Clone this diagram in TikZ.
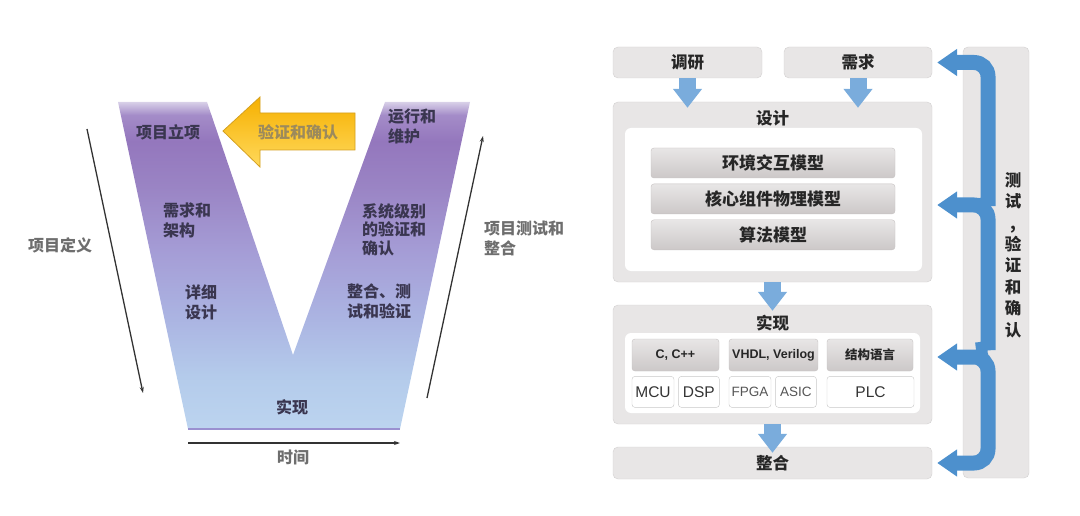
\documentclass[tikz,border=0pt]{standalone}
\usepackage{fontspec}
\setmainfont{Liberation Sans}
\newfontfamily\cjk{Noto Sans CJK SC}
\usetikzlibrary{arrows.meta,positioning,calc}

\definecolor{boxfill}{HTML}{E8E6E6}
\definecolor{boxline}{HTML}{D2D0D0}
\definecolor{barTop}{HTML}{E8E6E6}
\definecolor{barBot}{HTML}{CCC8C8}
\definecolor{barLine}{HTML}{C6C2C2}
\definecolor{cellLine}{HTML}{C8C8C8}
\definecolor{txtdark}{HTML}{262626}
\definecolor{txtcell}{HTML}{333333}
\definecolor{txtlight}{HTML}{555555}
\definecolor{vtext}{HTML}{3A3650}
\definecolor{sidegray}{HTML}{6E6E6E}
\definecolor{linegray}{HTML}{333333}
\definecolor{yTop}{HTML}{F6B000}
\definecolor{yBot}{HTML}{FFD95C}
\definecolor{yLine}{HTML}{D4A020}
\definecolor{yText}{HTML}{9C8A5C}
\definecolor{vedge}{HTML}{9A90D0}
\definecolor{tblue}{HTML}{4D90CD}
\definecolor{dnblue}{HTML}{7AACDC}
% V band colours
\definecolor{vc1}{HTML}{BCD4EF}
\definecolor{vc2}{HTML}{B4CBEB}
\definecolor{vc3}{HTML}{ABB4E2}
\definecolor{vc4}{HTML}{A59DD6}
\definecolor{vc5}{HTML}{9A84C4}
\definecolor{vc6}{HTML}{9477BD}
\definecolor{vc7}{HTML}{A48CC8}
\definecolor{vc8}{HTML}{D8D0E8}
\pgfdeclareverticalshading{vband}{100bp}{color(0bp)=(vc1); color(25bp)=(vc1); color(33bp)=(vc2); color(42bp)=(vc3); color(52bp)=(vc4); color(62bp)=(vc5); color(69bp)=(vc6); color(73bp)=(vc7); color(75bp)=(vc8); color(100bp)=(vc8)}

\begin{document}
\begin{tikzpicture}[x=1pt, y=-1pt,
    gbox/.style={draw=boxline, fill=boxfill, rounded corners=5pt, inner sep=0pt, font=\cjk\bfseries\fontsize{16.5}{16.5}\selectfont, text=txtdark},
    inbox/.style={fill=white, rounded corners=6pt, inner sep=0pt},
    bar/.style={rounded corners=3pt, top color=barTop, bottom color=barBot, draw=barLine, minimum width=244pt, minimum height=30pt, inner sep=0pt, font=\cjk\bfseries\fontsize{17}{17}\selectfont, text=txtdark},
    hdr/.style={rounded corners=3pt, top color=barTop, bottom color=barBot, draw=barLine, minimum height=32pt, inner sep=0pt, font=\bfseries\fontsize{12.5}{12.5}\selectfont, text=txtdark},
    cell/.style={rounded corners=3pt, fill=white, draw=cellLine, minimum height=31pt, inner sep=0pt, text=txtcell, font=\fontsize{15.5}{15.5}\selectfont},
    ttl/.style={font=\cjk\bfseries\fontsize{16.5}{16.5}\selectfont, text=txtdark, inner sep=0pt},
    vtxt/.style={font=\cjk\bfseries\fontsize{16}{20}\selectfont, text=vtext, inner sep=0pt, align=left},
    side/.style={font=\cjk\bfseries\fontsize{16}{20.5}\selectfont, text=sidegray, inner sep=0pt, align=left},
    thin/.style={-{Stealth[length=6pt,width=4pt]}, line width=1.3pt, draw=linegray},
    dnarrow/.style={-{Triangle[width=28pt,length=19pt]}, line width=17pt, draw=dnblue, shorten >=-6pt},
    testarrow/.style={-{Triangle[width=26pt,length=20pt]}, line width=15pt, draw=tblue, rounded corners=14pt, shorten >=5pt}
]
\useasboundingbox (0,0) rectangle (1080,516);

% The V
\shade[shading=vband] (118,102) -- (207,102) -- (293,355) -- (385,102) -- (470,102) -- (400,429) -- (188,429) -- cycle;
\draw[line width=1.6pt, vedge] (188,429) -- (400,429);

% Phases in the V
\node[vtxt] (lixiang) at (168,132) {项目立项};
\node[vtxt, anchor=west] (xqjg) at (163,220.5) {需求和\\架构};
\node[vtxt, anchor=west] (xxsj) at (185,302.5) {详细\\设计};
\node[vtxt, anchor=west] (yxwh) at (388,126.5) {运行和\\维护};
\node[vtxt, anchor=west, font=\cjk\bfseries\fontsize{16}{18.5}\selectfont] (xtjb) at (362,229.5) {系统级别\\的验证和\\确认};
\node[vtxt, anchor=west] (zhcs) at (347,301.5) {整合、测\\试和验证};
\node[vtxt] (sxV) at (292,407) {实现};

% Feedback arrow
\shade[top color=yTop, bottom color=yBot, draw=yLine, line width=0.8pt] (223,131) -- (260,97) -- (260,113) -- (355,113) -- (355,150) -- (260,150) -- (260,167) -- cycle;
\node[font=\cjk\bfseries\fontsize{16}{16}\selectfont, text=yText, inner sep=0pt] (yzqr) at (298,132) {验证和确认};

% Side labels and axes
\node[side] (xmdy) at (60,245) {项目定义};
\node[side, anchor=west] (xmcs) at (484,238.5) {项目测试和\\整合};
\node[side] (shijian) at (293,457) {时间};
\coordinate (defTop) at (87,129);
\coordinate (defBot) at (143,393);
\coordinate (tstBot) at (427,398);
\coordinate (tstTop) at (483,136);
\coordinate (timeL) at (188,443);
\coordinate (timeR) at (400,443);
\draw[thin] (defTop) -- (defBot);
\draw[thin] (tstBot) -- (tstTop);
\draw[thin] (timeL) -- (timeR);

% Top row
\node[gbox, minimum width=149pt, minimum height=31pt] (diaoyan) at (687.5,62.5) {调研};
\node[gbox, minimum width=148pt, minimum height=31pt] (xuqiu) at (858,62.5) {需求};

% Design block
\node[gbox, minimum width=319pt, minimum height=180pt] (sheji) at (772.5,192) {};
\node[ttl] (shejiT) at ([yshift=-17pt]sheji.north) {设计};
\node[inbox, minimum width=297pt, minimum height=143pt] (shejiIn) at (773.5,199.5) {};
\node[bar] (envm) at (773,163) {环境交互模型};
\node[bar, below=5.5pt of envm] (corem) {核心组件物理模型};
\node[bar, below=5.5pt of corem] (algm) {算法模型};

% Implementation block
\node[gbox, minimum width=319pt, minimum height=119pt] (shixian) at (772.5,364.5) {};
\node[ttl] (shixianT) at ([yshift=-18pt]shixian.north) {实现};
\node[inbox, minimum width=295pt, minimum height=80pt] (shixianIn) at (772.5,373) {};
\node[hdr, minimum width=87pt] (cpp) at (675.5,355) {C, C++};
\node[hdr, minimum width=89pt] (vhdl) at (773.5,355) {VHDL, Verilog};
\node[hdr, minimum width=86pt, font=\cjk\bfseries\fontsize{12.5}{12.5}\selectfont] (jgyy) at (870,355) {结构语言};
\node[cell, minimum width=42pt, below=5pt of cpp.south west, anchor=north west] (mcu) {MCU};
\node[cell, minimum width=41pt, right=4pt of mcu] (dsp) {DSP};
\node[cell, minimum width=42pt, text=txtlight, font=\fontsize{13.5}{13.5}\selectfont, below=5pt of vhdl.south west, anchor=north west] (fpga) {FPGA};
\node[cell, minimum width=41pt, text=txtlight, font=\fontsize{13.5}{13.5}\selectfont, right=4pt of fpga] (asic) {ASIC};
\node[cell, minimum width=87pt, below=5pt of jgyy.south west, anchor=north west] (plc) {PLC};

% Integration
\node[gbox, minimum width=319pt, minimum height=32pt] (zhenghe) at (772.5,463) {整合};

% Test column
\node[gbox, minimum width=66pt, minimum height=431pt] (ceshi) at (996,262.5) {};

% Flow arrows
\draw[dnarrow] (diaoyan) -- (diaoyan |- sheji.north);
\draw[dnarrow] (xuqiu) -- (xuqiu |- sheji.north);
\draw[dnarrow] (sheji) -- (sheji |- shixian.north);
\draw[dnarrow] (shixian) -- (shixian |- zhenghe.north);

% Test feedback
\coordinate (rail) at (988,0);
\coordinate (cusp1) at (976,206);
\coordinate (in2) at ([yshift=-13pt]sheji.east);
\coordinate (cusp2) at (976,350);
\coordinate (in3) at ([yshift=7.5pt]shixian.east);
\draw[testarrow] (cusp1) .. controls (988,205) and (988,202) .. (988,192) -- (rail |- xuqiu.east) -- (xuqiu.east);
\draw[testarrow] (cusp2) .. controls (988,349) and (988,346) .. (988,336) -- (rail |- in2) -- (in2);
\draw[testarrow, {Triangle[width=26pt,length=20pt]}-{Triangle[width=26pt,length=20pt]}, shorten <=5pt] (in3) -- (rail |- in3) -- (rail |- zhenghe.east) -- (zhenghe.east);

\node[ttl, align=center, font=\cjk\bfseries\fontsize{16.5}{21.4}\selectfont] (ceshiT) at (1013,255) {测\\试\\,\\验\\证\\和\\确\\认};

\end{tikzpicture}
\end{document}
